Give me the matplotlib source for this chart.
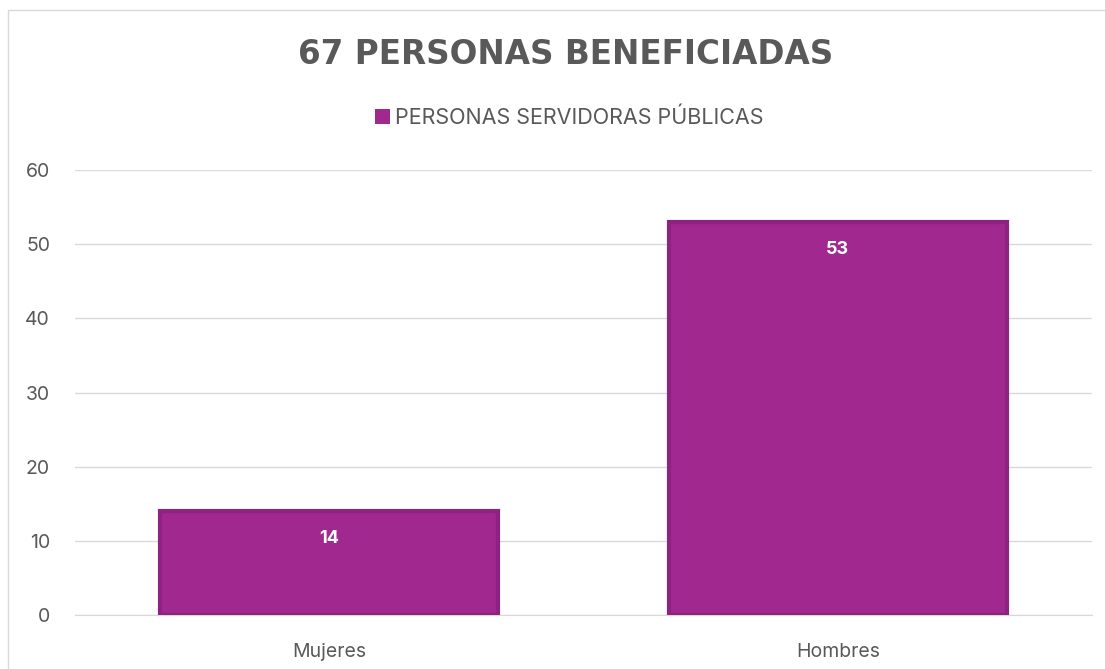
import matplotlib.pyplot as plt
from matplotlib.patches import Rectangle

categorias = ['Mujeres', 'Hombres']
valores = [14, 53]
serie = 'PERSONAS SERVIDORAS PÚBLICAS'
titulo = '67 PERSONAS BENEFICIADAS'

plt.rcParams['font.family'] = ['Inter', 'DejaVu Sans']

fig = plt.figure(figsize=(11.05, 6.69), dpi=100)
# marco exterior del grafico
fig.patches.append(Rectangle((8 / 1105, -0.1), 1.2, 1 - 10 / 669 + 0.1,
                             transform=fig.transFigure, fill=False,
                             edgecolor='#D9D9D9', linewidth=1))

ax = fig.add_axes([75 / 1105, 1 - 615 / 669, 1017 / 1105, 445 / 669])
x = range(len(categorias))
bars = ax.bar(x, valores, width=0.665, color='#A0288F', edgecolor='#8C2380',
              linewidth=3, label=serie, zorder=3)

for b, v in zip(bars, valores):
    ax.text(b.get_x() + b.get_width() / 2, v - 2.6, str(v), ha='center', va='top',
            color='white', fontsize=13, fontweight='bold', zorder=4)

ax.set_ylim(0, 60)
ax.set_xlim(-0.5, 1.5)
ax.set_yticks(range(0, 61, 10))
ax.set_xticks(list(x))
ax.set_xticklabels(categorias)
ax.yaxis.grid(True, color='#D9D9D9', linewidth=1, zorder=0)
for s in ax.spines.values():
    s.set_visible(False)
ax.spines['bottom'].set_visible(True)
ax.spines['bottom'].set_color('#D9D9D9')
ax.tick_params(length=0, labelsize=14, labelcolor='#595959')
ax.tick_params(axis='x', pad=20)
ax.tick_params(axis='y', pad=18)

fig.text(0.512, 1 - 55 / 669, titulo, ha='center', va='center', fontsize=23.5,
         fontweight='bold', color='#595959', family='DejaVu Sans')
leg = ax.legend(loc='center', bbox_to_anchor=(0.515, 1 - 118 / 669), bbox_transform=fig.transFigure,
                frameon=False, fontsize=15.5, handlelength=0.7, handleheight=0.7,
                handletextpad=0.25, labelcolor='#595959')
leg.legend_handles[0].set_linewidth(0)

fig.savefig('out.png', dpi=100)
